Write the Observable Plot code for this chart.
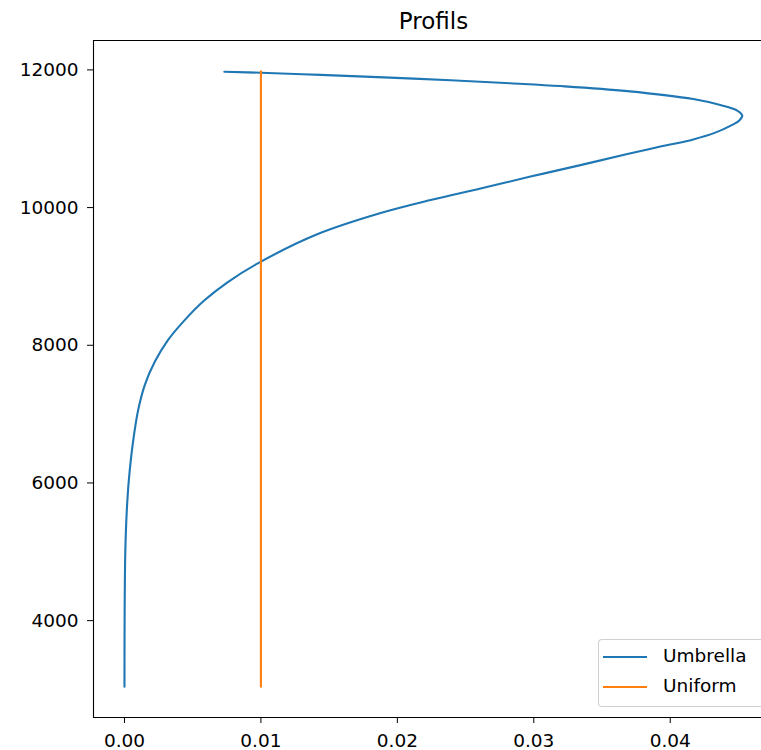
<!DOCTYPE html>
<html>
<head>
<meta charset="utf-8">
<script src="https://cdn.jsdelivr.net/npm/d3@7"></script>
<script src="https://cdn.jsdelivr.net/npm/@observablehq/plot@0.6"></script>
<style>
  html, body { margin: 0; padding: 0; background: #fff; overflow: hidden; }
  #wrap { position: relative; width: 761px; height: 750px; overflow: hidden; font-family: "DejaVu Sans", sans-serif; }
  #wrap svg { max-width: none !important; }
  #legend { position: absolute; left: 598px; top: 639px; width: 170px; height: 66px;
            border: 1px solid #d0d0d0; border-right: none; border-radius: 4px 0 0 4px; background: rgba(255,255,255,0.85);
            font-size: 18.5px; color: #000; }
  .row { position: absolute; left: 0; height: 30px; width: 160px; }
  .sw { position: absolute; left: 4px; width: 44px; height: 2px; }
  .lab { position: absolute; left: 64px; line-height: 1; white-space: nowrap; }
</style>
</head>
<body>
<div id="wrap"></div>
<script>
// Umbrella profile (height in m, value)
const umbrellaHeights = [3040, 4000, 4988, 5598, 6063, 6586, 7065, 7429, 7763, 8068, 8358, 8649, 8915, 9208, 9615, 9920, 10109, 10276, 10450, 10617, 10777, 10886, 10990, 11089, 11191, 11264, 11336, 11409, 11489, 11576, 11692, 11765, 11805, 11849, 11892, 11927, 11958, 11974];
const umbrellaValues  = [0, 0.00001, 0.00006, 0.00017, 0.00033, 0.00062, 0.00101, 0.0015, 0.00223, 0.00316, 0.00438, 0.00584, 0.00755, 0.00994, 0.01417, 0.01878, 0.02244, 0.0261, 0.02976, 0.03342, 0.03686, 0.03928, 0.04169, 0.0433, 0.04444, 0.04506, 0.04528, 0.04491, 0.04367, 0.04169, 0.03686, 0.03196, 0.02829, 0.0239, 0.019, 0.01438, 0.00999, 0.00732];
// Uniform profile
const uniformHeights = [3040, 11980];
const uniformValues  = [0.01, 0.01];

const seriesNames = ["Umbrella", "Uniform"];
const seriesColors = ["#1f77b4", "#ff7f0e"];
const xTicks = [0, 0.01, 0.02, 0.03, 0.04];
const yTicks = [4000, 6000, 8000, 10000, 12000];
const title = "Profils";

const xDomain = [-0.00227, 0.04669];
const yDomain = [2593, 12427];

const umbrella = umbrellaHeights.map((h, i) => ({h, v: umbrellaValues[i]}));
const uniform = uniformHeights.map((h, i) => ({h, v: uniformValues[i]}));

const chart = Plot.plot({
  width: 761,
  height: 750,
  marginLeft: 93,
  marginRight: 0,
  marginTop: 40,
  marginBottom: 33,
  style: {fontFamily: "DejaVu Sans", fontSize: "18.5px", color: "#000", background: "transparent", maxWidth: "none"},
  x: {domain: xDomain, ticks: xTicks, tickFormat: d3.format(".2f"), label: null, tickSize: 6, tickPadding: 10},
  y: {domain: yDomain, ticks: yTicks, tickFormat: d3.format("d"), label: null, tickSize: 6, tickPadding: 9},
  marks: [
    Plot.line(umbrella, {x: "v", y: "h", stroke: seriesColors[0], strokeWidth: 2.1, curve: "catmull-rom"}),
    Plot.line(uniform, {x: "v", y: "h", stroke: seriesColors[1], strokeWidth: 2.1}),
    Plot.ruleX([xDomain[0]], {stroke: "#000", strokeWidth: 1.1}),
    Plot.ruleY(yDomain, {stroke: "#000", strokeWidth: 1.1}),
    Plot.text([title], {frameAnchor: "top", dx: 6, dy: -12, lineAnchor: "bottom", text: d => d, fontSize: 23, fill: "#000"})
  ]
});

const wrap = document.getElementById("wrap");
wrap.appendChild(chart);

const legend = document.createElement("div");
legend.id = "legend";
seriesNames.forEach((name, i) => {
  const row = document.createElement("div");
  row.className = "row";
  row.style.top = (i === 0 ? 2 : 32) + "px";
  const sw = document.createElement("div");
  sw.className = "sw";
  sw.style.background = seriesColors[i];
  sw.style.top = "14px";
  const lab = document.createElement("div");
  lab.className = "lab";
  lab.style.top = "5px";
  lab.textContent = name;
  row.appendChild(sw);
  row.appendChild(lab);
  legend.appendChild(row);
});
wrap.appendChild(legend);
</script>
</body>
</html>
